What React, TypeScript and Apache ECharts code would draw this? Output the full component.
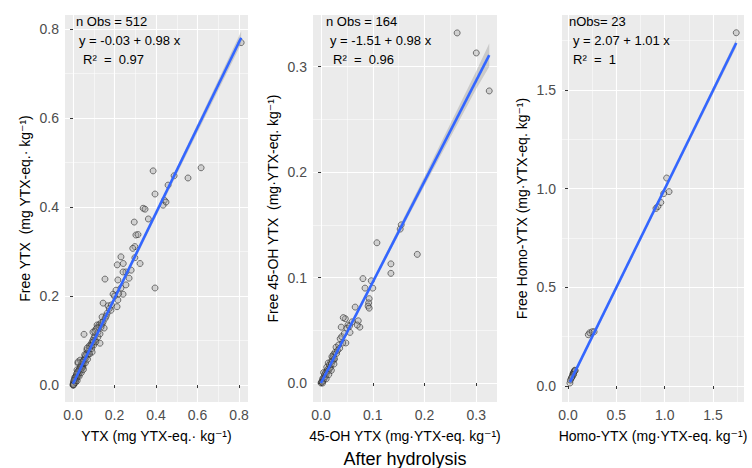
import React, { useEffect, useRef } from "react";
import * as echarts from "echarts";

// ---------- data ----------
const ytxTotal = [0.81,0.617,0.386,0.487,0.554,0.458,0.395,0.44,0.434,0.448,0.338,0.347,0.363,0.295,0.303,0.313,0.298,0.288,0.298,0.231,0.213,0.242,0.323,0.28,0.255,0.241,0.27,0.216,0.154,0.255,0.231,0.207,0.395,0.193,0.241,0.216,0.145,0.169,0.212,0.183,0.164,0.14,0.116,0.125,0.15,0.096,0.053,0.13,0.106,0.082,0.092,0.067,0.058,0.034,0.024,0.043,0.048,0.019,0.01,0.005,
  0.11,0.12,0.105,0.1,0.095,0.09,0.085,0.08,0.078,0.075,0.072,0.07,0.065,0.062,0.06,0.055,0.052,0.05,0.047,0.045,0.042,0.04,0.038,0.036,0.033,0.031,0.029,0.027,0.025,0.023,0.021,0.02,0.018,0.017,0.015,0.014,0.012,0.011,0.009,0.008,0.007,0.006,0.004,0.003,0.002,0.001,0.0,0.001,0.003,0.013,0.02,0.03,0.04,0.05,0.06,0.07,0.08,0.09,0.1,0.11,0.12,0.13,0.125,0.115,0.105,0.135,0.14,0.155,0.16,0.175,0.185,0.2,0.22,0.09,0.098,0.135,0.145,0.043,0.056,0.068,0.022,0.016,0.008,0.004,0.024];
const ytxFree = [0.769,0.488,0.481,0.47,0.465,0.449,0.429,0.415,0.404,0.411,0.397,0.395,0.373,0.366,0.337,0.338,0.311,0.307,0.286,0.288,0.27,0.273,0.273,0.258,0.254,0.254,0.24,0.236,0.238,0.225,0.218,0.213,0.218,0.204,0.204,0.191,0.184,0.178,0.176,0.168,0.161,0.153,0.135,0.135,0.128,0.119,0.114,0.094,0.101,0.085,0.074,0.079,0.063,0.056,0.049,0.038,0.04,0.034,0.018,0.007,
  0.125,0.118,0.11,0.105,0.1,0.095,0.09,0.082,0.088,0.07,0.075,0.068,0.07,0.06,0.066,0.058,0.05,0.055,0.045,0.05,0.04,0.046,0.035,0.042,0.03,0.036,0.027,0.032,0.022,0.028,0.019,0.024,0.016,0.021,0.013,0.018,0.01,0.015,0.008,0.012,0.005,0.009,0.003,0.006,0.001,0.003,0.0,0.0,0.001,0.006,0.01,0.02,0.028,0.035,0.05,0.058,0.07,0.082,0.09,0.097,0.108,0.115,0.13,0.128,0.12,0.13,0.137,0.15,0.155,0.172,0.18,0.2,0.205,0.089,0.097,0.14,0.142,0.052,0.068,0.083,0.03,0.025,0.016,0.01,0.052];

const ohTotal = [0.263,0.3,0.325,0.155,0.153,0.108,0.186,0.135,0.135,0.081,0.097,0.085,0.1,0.093,0.092,0.091,0.093,0.066,0.072,0.075,0.047,0.039,0.052,0.056,0.048,0.037,0.04,0.029,0.024,0.021,0.025,0.014,0.011,0.005,0.017,
  0.0,0.001,0.002,0.003,0.004,0.005,0.006,0.007,0.008,0.009,0.01,0.012,0.013,0.015,0.016,0.018,0.019,0.02,0.022,0.023,0.026,0.027,0.03,0.032,0.034,0.036,0.045,0.05,0.042,0.055,0.06,0.02,0.01,0.003,0.015,0.025,0.043,0.07];
const ohFree = [0.332,0.313,0.277,0.15,0.146,0.133,0.122,0.113,0.104,0.099,0.097,0.09,0.09,0.08,0.076,0.073,0.071,0.072,0.059,0.053,0.061,0.053,0.055,0.048,0.038,0.042,0.044,0.034,0.027,0.025,0.022,0.019,0.015,0.01,0.014,
  0.0,0.001,0.001,0.004,0.002,0.005,0.004,0.008,0.006,0.01,0.008,0.011,0.013,0.012,0.017,0.015,0.02,0.018,0.021,0.024,0.023,0.029,0.028,0.031,0.036,0.033,0.047,0.052,0.038,0.054,0.058,0.012,0.004,0.0,0.008,0.018,0.062,0.055];

const homoTotal = [0.02,0.025,0.035,0.045,0.05,0.055,0.06,0.065,0.07,0.075,0.058,0.04,0.21,0.225,0.25,0.27,0.91,0.93,0.96,0.99,1.02,1.045,1.74];
const homoFree = [0.015,0.03,0.04,0.05,0.06,0.065,0.07,0.075,0.08,0.078,0.058,0.045,0.26,0.27,0.275,0.275,0.9,0.91,0.93,0.975,1.054,0.985,1.79];

// fitted lines (end points)
const fitYtxX = [0.0, 0.81];
const fitYtxY = [0.003, 0.78];
const fitOhX = [0.0, 0.325];
const fitOhY = [0.0, 0.311];
const fitHomoX = [0.02, 1.74];
const fitHomoY = [0.02, 1.738];

// confidence bands
const bandYtxX = [0.0, 0.4, 0.81];
const bandYtxLo = [-0.003, 0.379, 0.766];
const bandYtxHi = [0.008, 0.389, 0.794];
const bandOhX = [0.0, 0.1, 0.2, 0.3, 0.325];
const bandOhLo = [-0.002, 0.094, 0.187, 0.279, 0.3];
const bandOhHi = [0.002, 0.098, 0.196, 0.296, 0.322];
const bandHomoX = [0.02, 1.0, 1.74];
const bandHomoLo = [0.008, 0.985, 1.718];
const bandHomoHi = [0.032, 1.0, 1.758];

// axis ticks
const ticksYtx = [0, 0.2, 0.4, 0.6, 0.8];
const ticksOh = [0, 0.1, 0.2, 0.3];
const ticksHomo = [0, 0.5, 1.0, 1.5];

const FONT = "'Liberation Sans', Arial, 'DejaVu Sans', sans-serif";

function zip(a: number[], b: number[]) {
  return a.map((v, i) => [v, b[i]]);
}

function bandSeries(idx: number, xs: number[], lo: number[], hi: number[]) {
  return {
    type: "custom",
    xAxisIndex: idx,
    yAxisIndex: idx,
    z: 3,
    silent: true,
    clip: true,
    data: [[xs[0], lo[0]]],
    renderItem: (params: any, api: any) => {
      const pts: number[][] = [];
      for (let i = 0; i < xs.length; i++) pts.push(api.coord([xs[i], hi[i]]));
      for (let i = xs.length - 1; i >= 0; i--) pts.push(api.coord([xs[i], lo[i]]));
      return {
        type: "polygon",
        shape: { points: pts },
        style: { fill: "rgba(153,153,153,0.4)", stroke: "none" },
      };
    },
  };
}

function xAxis(idx: number, min: number, max: number, ticks: number[], name: string) {
  return {
    gridIndex: idx,
    type: "value",
    min,
    max,
    splitNumber: 4,
    axisLine: { show: false },
    axisTick: { show: true, length: 3, customValues: ticks, lineStyle: { color: "#333333", width: 1 } },
    axisLabel: {
      customValues: ticks,
      color: "#4D4D4D",
      fontSize: 14,
      fontFamily: FONT,
      margin: 6,
      formatter: (v: number) => v.toFixed(1),
    },
    splitLine: { show: true, lineStyle: { color: "#ffffff", width: 1.1 } },
    minorTick: { show: false, splitNumber: 2 },
    minorSplitLine: { show: true, lineStyle: { color: "#ffffff", width: 0.5 } },
    name,
    nameLocation: "middle",
    nameGap: 27,
    nameTextStyle: { color: "#000000", fontSize: 14, fontFamily: FONT },
  };
}

function yAxis(idx: number, min: number, max: number, ticks: number[], name: string) {
  return {
    gridIndex: idx,
    type: "value",
    min,
    max,
    splitNumber: 4,
    axisLine: { show: false },
    axisTick: { show: true, length: 3, customValues: ticks, lineStyle: { color: "#333333", width: 1 } },
    axisLabel: {
      customValues: ticks,
      color: "#4D4D4D",
      fontSize: 14,
      fontFamily: FONT,
      margin: 6,
      formatter: (v: number) => v.toFixed(1),
    },
    splitLine: { show: true, lineStyle: { color: "#ffffff", width: 1.1 } },
    minorTick: { show: false, splitNumber: 2 },
    minorSplitLine: { show: true, lineStyle: { color: "#ffffff", width: 0.5 } },
    name,
    nameLocation: "middle",
    nameGap: 33,
    nameRotate: 90,
    nameTextStyle: { color: "#000000", fontSize: 14, fontFamily: FONT },
  };
}

function scatter(idx: number, xs: number[], ys: number[]) {
  return {
    type: "scatter",
    xAxisIndex: idx,
    yAxisIndex: idx,
    z: 2,
    symbol: "circle",
    symbolSize: 6,
    itemStyle: { color: "rgba(160,160,160,0.45)", borderColor: "rgba(40,40,40,0.75)", borderWidth: 1 },
    data: zip(xs, ys),
  };
}

function fitLine(idx: number, xs: number[], ys: number[]) {
  return {
    type: "line",
    xAxisIndex: idx,
    yAxisIndex: idx,
    z: 4,
    showSymbol: false,
    symbol: "none",
    lineStyle: { color: "#3366FF", width: 2.6 },
    data: zip(xs, ys),
  };
}

function txt(x: number, y: number, text: string, size = 13, align = "left") {
  return {
    type: "text",
    x,
    y,
    z: 10,
    style: { text, fill: "#000000", fontSize: size, fontFamily: FONT, align, verticalAlign: "middle" },
  };
}

export default function App() {
  const ref = useRef<HTMLDivElement>(null);
  useEffect(() => {
    if (!ref.current) return;
    const chart = echarts.init(ref.current, null, { renderer: "svg" });
    chart.setOption({
      animation: false,
      backgroundColor: "#ffffff",
      grid: [
        { left: 65, top: 15, width: 183, height: 387, show: true, backgroundColor: "#EBEBEB", borderWidth: 0 },
        { left: 313, top: 15, width: 184, height: 387, show: true, backgroundColor: "#EBEBEB", borderWidth: 0 },
        { left: 562, top: 15, width: 182, height: 387, show: true, backgroundColor: "#EBEBEB", borderWidth: 0 },
      ],
      xAxis: [
        xAxis(0, -0.0386, 0.843, ticksYtx, "YTX (mg YTX-eq.· kg⁻¹)"),
        xAxis(1, -0.0155, 0.34, ticksOh, "45-OH YTX (mg·YTX-eq. kg⁻¹)"),
        xAxis(2, -0.062, 1.82, ticksHomo, "Homo-YTX (mg·YTX-eq. kg⁻¹)"),
      ],
      yAxis: [
        yAxis(0, -0.038, 0.831, ticksYtx, "Free YTX  (mg YTX-eq.· kg⁻¹)"),
        yAxis(1, -0.018, 0.349, ticksOh, "Free 45-OH YTX  (mg·YTX-eq. kg⁻¹)"),
        yAxis(2, -0.081, 1.88, ticksHomo, "Free Homo-YTX (mg·YTX-eq. kg⁻¹)"),
      ],
      series: [
        scatter(0, ytxTotal, ytxFree),
        scatter(1, ohTotal, ohFree),
        scatter(2, homoTotal, homoFree),
        bandSeries(0, bandYtxX, bandYtxLo, bandYtxHi),
        bandSeries(1, bandOhX, bandOhLo, bandOhHi),
        bandSeries(2, bandHomoX, bandHomoLo, bandHomoHi),
        fitLine(0, fitYtxX, fitYtxY),
        fitLine(1, fitOhX, fitOhY),
        fitLine(2, fitHomoX, fitHomoY),
      ],
      graphic: [
        txt(76, 21, "n Obs = 512"),
        txt(79, 40, "y = -0.03 + 0.98 x"),
        txt(83, 59, "R²  =  0.97"),
        txt(326, 21, "n Obs = 164"),
        txt(330, 40, "y = -1.51 + 0.98 x"),
        txt(333, 59, "R²  =  0.96"),
        txt(569, 21, "nObs= 23"),
        txt(573, 40, "y = 2.07 + 1.01 x"),
        txt(573, 59, "R²  =  1"),
        txt(405, 459, "After hydrolysis", 18, "center"),
      ],
    });
    return () => chart.dispose();
  }, []);
  return <div ref={ref} style={{ position: "fixed", left: 0, top: 0, width: 752, height: 468 }} />;
}
